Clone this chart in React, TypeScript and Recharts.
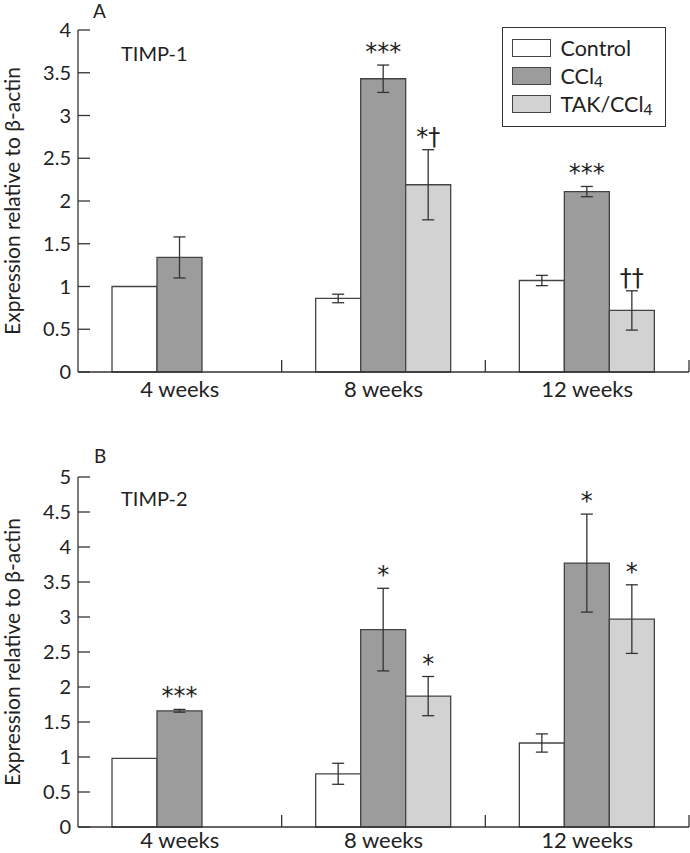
import React from 'react';
import { BarChart, Bar, XAxis, YAxis, ErrorBar, LabelList, Legend, Label } from 'recharts';

const FONT = 'Lato, "DejaVu Sans", sans-serif';
const SIG_FONT = '"DejaVu Sans", sans-serif';
const INK = '#222';
const LINE = '#333';

const categories = ['4 weeks', '8 weeks', '12 weeks'];
const seriesNames = ['Control', 'CCl4', 'TAK/CCl4'];
const seriesFills = ['#ffffff', '#9c9c9c', '#d2d2d2'];

// Panel A – TIMP-1
const timp1Control = [1.0, 0.86, 1.07];
const timp1ControlErr = [null, 0.05, 0.06];
const timp1CCl4 = [1.34, 3.43, 2.11];
const timp1CCl4Err = [0.24, 0.16, 0.06];
const timp1Tak = [null, 2.19, 0.72];
const timp1TakErr = [null, 0.41, 0.23];
const timp1CCl4Sig = ['', '***', '***'];
const timp1TakSig = ['', '*†', '††'];
const timp1Ticks = [0, 0.5, 1, 1.5, 2, 2.5, 3, 3.5, 4];

// Panel B – TIMP-2
const timp2Control = [0.98, 0.76, 1.2];
const timp2ControlErr = [null, 0.15, 0.13];
const timp2CCl4 = [1.66, 2.82, 3.77];
const timp2CCl4Err = [0.02, 0.59, 0.7];
const timp2Tak = [null, 1.87, 2.97];
const timp2TakErr = [null, 0.28, 0.49];
const timp2CCl4Sig = ['***', '*', '*'];
const timp2TakSig = ['', '*', '*'];
const timp2Ticks = [0, 0.5, 1, 1.5, 2, 2.5, 3, 3.5, 4, 4.5, 5];

type Row = {
  cat: string;
  control: number | null;
  controlErr: number | null;
  ccl4: number | null;
  ccl4Err: number | null;
  tak: number | null;
  takErr: number | null;
  ccl4Sig: string;
  takSig: string;
};

function buildRows(
  control: (number | null)[], controlErr: (number | null)[],
  ccl4: (number | null)[], ccl4Err: (number | null)[],
  tak: (number | null)[], takErr: (number | null)[],
  ccl4Sig: string[], takSig: string[]
): Row[] {
  return categories.map((cat, i) => ({
    cat,
    control: control[i], controlErr: controlErr[i],
    ccl4: ccl4[i], ccl4Err: ccl4Err[i],
    tak: tak[i], takErr: takErr[i],
    ccl4Sig: ccl4Sig[i], takSig: takSig[i],
  }));
}

const rowsA = buildRows(timp1Control, timp1ControlErr, timp1CCl4, timp1CCl4Err, timp1Tak, timp1TakErr, timp1CCl4Sig, timp1TakSig);
const rowsB = buildRows(timp2Control, timp2ControlErr, timp2CCl4, timp2CCl4Err, timp2Tak, timp2TakErr, timp2CCl4Sig, timp2TakSig);

const ValueTick = (props: any) => {
  const { x, y, payload } = props;
  return (
    <g>
      <line x1={x} x2={x + 12} y1={y} y2={y} stroke={LINE} strokeWidth={1.3} />
      <text x={x - 7} y={y} dy="0.36em" textAnchor="end" fontFamily={FONT} fontSize={20} fill={INK}>
        {String(payload.value)}
      </text>
    </g>
  );
};

const makeCategoryTick = (plotWidth: number, labelOffset: number) => (props: any) => {
  const { x, y, payload } = props;
  const half = payload && payload.offset ? payload.offset : plotWidth / categories.length / 2;
  return (
    <g>
      <text x={x} y={y + labelOffset} textAnchor="middle" fontFamily={FONT} fontSize={22} fill={INK}>
        {payload.value}
      </text>
      <line x1={x + half} x2={x + half} y1={y} y2={y - 12} stroke={LINE} strokeWidth={1.3} />
    </g>
  );
};

const makeSig = (rows: Row[], valueKey: 'ccl4' | 'tak', errKey: 'ccl4Err' | 'takErr') => (props: any) => {
  const { x, y, width, height, value, index } = props;
  if (!value) return null;
  const drawn = rows.filter((r) => r[valueKey] != null);
  const row = drawn[index];
  if (!row) return null;
  const v = row[valueKey] as number;
  const e = (row[errKey] as number) || 0;
  const pxPerUnit = v ? Math.abs(height) / v : 0;
  const errTop = y - e * pxPerUnit;
  return (
    <text x={x + width / 2} y={errTop - 5} textAnchor="middle" fontFamily={SIG_FONT} fontSize={24} fill={INK}>
      {value}
    </text>
  );
};

const formatName = (name: string) => {
  if (name.endsWith('4')) {
    return (
      <span style={{ lineHeight: '20px' }}>
        {name.slice(0, -1)}
        <span style={{ fontSize: '0.72em', lineHeight: 1, position: 'relative', top: '0.2em' }}>4</span>
      </span>
    );
  }
  return <span style={{ lineHeight: '20px' }}>{name}</span>;
};

const LegendBox = (props: any) => {
  const raw = props.payload || [];
  const payload = seriesNames
    .map((n) => raw.find((p: any) => p.value === n))
    .filter(Boolean);
  return (
    <div
      style={{
        border: `1.5px solid ${LINE}`,
        boxSizing: 'border-box',
        width: 164,
        height: 100,
        padding: '6px 0 0 8.5px',
        background: '#fff',
        fontFamily: FONT,
        fontSize: 21.5,
        color: INK,
        lineHeight: '20px',
      }}
    >
      {payload.map((p: any, i: number) => (
        <div key={i} style={{ display: 'flex', alignItems: 'center', height: 28 }}>
          <span
            style={{
              display: 'inline-block',
              width: 39,
              height: 18,
              background: p.color,
              border: '1.3px solid #444',
              boxSizing: 'border-box',
              marginRight: 10,
              flexShrink: 0,
            }}
          />
          {formatName(String(p.value))}
        </div>
      ))}
    </div>
  );
};

const YLabel = (props: any) => {
  const vb = props.viewBox || { x: 0, y: 0, width: 78, height: 300 };
  const cx = 20;
  const cy = vb.y + vb.height / 2;
  return (
    <text x={cx} y={cy} transform={`rotate(-90 ${cx} ${cy})`} textAnchor="middle" fontFamily={FONT} fontSize={21} fill={INK}>
      Expression relative to β-actin
    </text>
  );
};

type PanelProps = {
  rows: Row[];
  ticks: number[];
  height: number;
  top: number;
  plotHeight: number;
  labelOffset: number;
  showLegend: boolean;
};

const Panel = ({ rows, ticks, height, top, plotHeight, labelOffset, showLegend }: PanelProps) => {
  const width = 690;
  const margin = { top, right: 1, left: 0, bottom: height - top - 30 - plotHeight };
  const plotWidth = width - 78 - 1;
  return (
    <BarChart width={width} height={height} data={rows} margin={margin} barCategoryGap="16.7%" barGap={0}>
      <XAxis
        dataKey="cat"
        interval={0}
        height={30}
        tickSize={0}
        tickMargin={0}
        tickLine={false}
        axisLine={{ stroke: LINE, strokeWidth: 1.3 }}
        tick={makeCategoryTick(plotWidth, labelOffset)}
      />
      <YAxis
        width={78}
        domain={[ticks[0], ticks[ticks.length - 1]]}
        ticks={ticks}
        interval={0}
        tickSize={0}
        tickMargin={0}
        tickLine={false}
        axisLine={{ stroke: LINE, strokeWidth: 1.3 }}
        tick={<ValueTick />}
      >
        <Label content={<YLabel />} />
      </YAxis>
      {showLegend && (
        <Legend
          layout="horizontal"
          verticalAlign="middle"
          align="center"
          content={<LegendBox />}
          wrapperStyle={{ left: 502, top: 27, width: 164, height: 100 }}
        />
      )}
      <Bar dataKey="control" name={seriesNames[0]} fill={seriesFills[0]} stroke="#444" strokeWidth={1.3} isAnimationActive={false}>
        <ErrorBar dataKey="controlErr" width={6} stroke={LINE} strokeWidth={1.3} direction="y" isAnimationActive={false} />
      </Bar>
      <Bar dataKey="ccl4" name={seriesNames[1]} fill={seriesFills[1]} stroke="#444" strokeWidth={1.3} isAnimationActive={false}>
        <ErrorBar dataKey="ccl4Err" width={6} stroke={LINE} strokeWidth={1.3} direction="y" isAnimationActive={false} />
        <LabelList dataKey="ccl4Sig" content={makeSig(rows, 'ccl4', 'ccl4Err')} />
      </Bar>
      <Bar dataKey="tak" name={seriesNames[2]} fill={seriesFills[2]} stroke="#444" strokeWidth={1.3} isAnimationActive={false}>
        <ErrorBar dataKey="takErr" width={6} stroke={LINE} strokeWidth={1.3} direction="y" isAnimationActive={false} />
        <LabelList dataKey="takSig" content={makeSig(rows, 'tak', 'takErr')} />
      </Bar>
    </BarChart>
  );
};

export default function App() {
  return (
    <div style={{ position: 'absolute', left: 0, top: 0, width: 690, height: 853, background: '#fff', overflow: 'hidden' }}>
      <div style={{ position: 'absolute', left: 0, top: 0 }}>
        <Panel rows={rowsA} ticks={timp1Ticks} height={412} top={30} plotHeight={342} labelOffset={25} showLegend={true} />
      </div>
      <div style={{ position: 'absolute', left: 0, top: 420 }}>
        <Panel rows={rowsB} ticks={timp2Ticks} height={433} top={57} plotHeight={350} labelOffset={21} showLegend={false} />
      </div>
      <svg width={690} height={853} style={{ position: 'absolute', left: 0, top: 0, pointerEvents: 'none' }}>
        <text x={93} y={17.5} fontFamily={FONT} fontSize={19} fill={INK}>A</text>
        <text x={121} y={60.5} fontFamily={FONT} fontSize={20} fill={INK}>TIMP-1</text>
        <text x={94} y={463} fontFamily={FONT} fontSize={19} fill={INK}>B</text>
        <text x={121} y={506} fontFamily={FONT} fontSize={20} fill={INK}>TIMP-2</text>
      </svg>
    </div>
  );
}
